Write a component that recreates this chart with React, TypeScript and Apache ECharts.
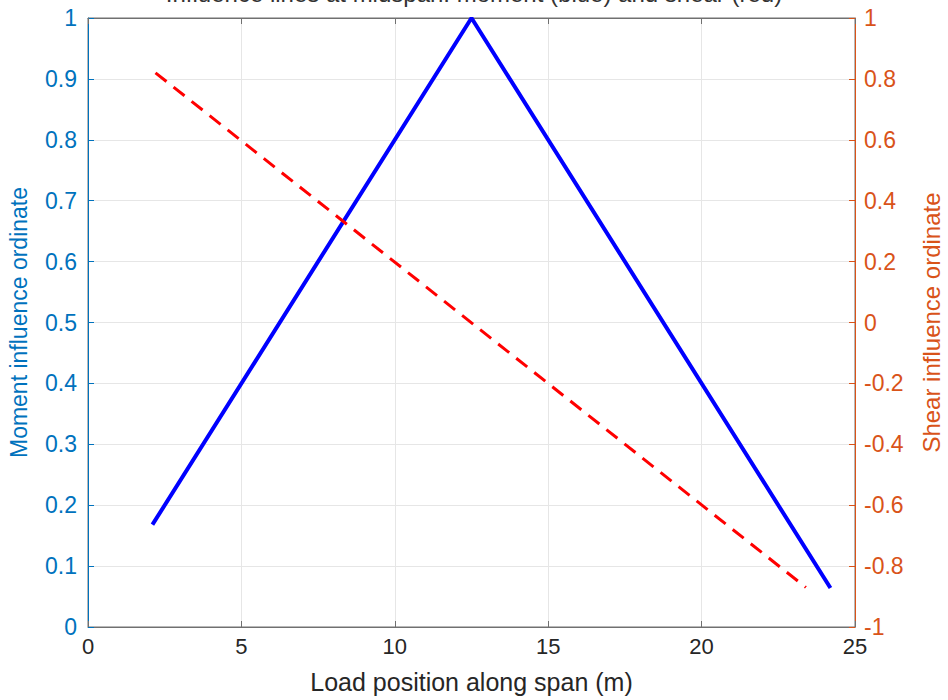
import React, { useEffect, useRef } from "react";
import * as echarts from "echarts";

const titleText = "Influence lines at midspan: moment (blue) and shear (red)";
const xName = "Load position along span (m)";
const leftName = "Moment influence ordinate";
const rightName = "Shear influence ordinate";

const momentX = [2.1, 12.5, 24.2];
const momentY = [0.168, 1, 0.064];
const shearX = [2.2, 23.4];
const shearY = [0.82, -0.87];

const FONT = "Liberation Sans, Arial, Helvetica, sans-serif";
const BLUE_AX = "#0072BD";
const ORANGE_AX = "#D95319";
const GRID = "#e6e6e6";
const FRAME = "#707070";

export default function App() {
  const ref = useRef<HTMLDivElement>(null);
  useEffect(() => {
    if (!ref.current) return;
    const chart = echarts.init(ref.current, null, { renderer: "svg" });
    const moment = momentX.map((x, i) => [x, momentY[i]]);
    const shear = shearX.map((x, i) => [x, shearY[i]]);
    chart.setOption({
      animation: false,
      backgroundColor: "#ffffff",
      textStyle: { fontFamily: FONT },
      title: {
        text: titleText,
        left: "center",
        top: -24,
        textStyle: { fontSize: 24, fontWeight: "normal", color: "#333", fontFamily: FONT },
      },
      grid: {
        left: 88,
        right: 93,
        top: 18,
        bottom: 73,
        containLabel: false,
        outerBoundsMode: "none",
        show: true,
        borderColor: FRAME,
        borderWidth: 1,
        backgroundColor: "transparent",
      },
      xAxis: [
        {
          type: "value",
          min: 0,
          max: 25,
          interval: 5,
          position: "bottom",
          name: xName,
          nameLocation: "middle",
          nameGap: 42,
          nameTextStyle: { fontSize: 25, color: "#262626", fontFamily: FONT },
          axisLine: { show: true, onZero: false, lineStyle: { color: FRAME, width: 1 } },
          axisTick: { show: true, inside: true, length: 6, lineStyle: { color: FRAME } },
          axisLabel: { fontSize: 22, color: "#262626", margin: 8, fontFamily: FONT },
          splitLine: { show: true, lineStyle: { color: GRID, width: 1 } },
        },
        {
          type: "value",
          min: 0,
          max: 25,
          interval: 5,
          position: "top",
          axisLine: { show: true, onZero: false, lineStyle: { color: FRAME, width: 1 } },
          axisTick: { show: true, inside: true, length: 6, lineStyle: { color: FRAME } },
          axisLabel: { show: false },
          splitLine: { show: false },
        },
      ],
      yAxis: [
        {
          type: "value",
          min: 0,
          max: 1,
          interval: 0.1,
          position: "left",
          name: leftName,
          nameLocation: "middle",
          nameRotate: 90,
          nameGap: 58,
          nameTextStyle: { fontSize: 23, color: BLUE_AX, fontFamily: FONT },
          axisLine: { show: true, onZero: false, lineStyle: { color: BLUE_AX, width: 1 } },
          axisTick: { show: true, inside: true, length: 6, lineStyle: { color: BLUE_AX } },
          axisLabel: { fontSize: 23, color: BLUE_AX, margin: 11, fontFamily: FONT },
          splitLine: { show: true, lineStyle: { color: GRID, width: 1 } },
        },
        {
          type: "value",
          min: -1,
          max: 1,
          interval: 0.2,
          position: "right",
          name: rightName,
          nameLocation: "middle",
          nameRotate: 90,
          nameGap: 64,
          nameTextStyle: { fontSize: 24, color: ORANGE_AX, fontFamily: FONT },
          axisLine: { show: true, onZero: false, lineStyle: { color: ORANGE_AX, width: 1 } },
          axisTick: { show: true, inside: true, length: 6, lineStyle: { color: ORANGE_AX } },
          axisLabel: { fontSize: 23, color: ORANGE_AX, margin: 9, fontFamily: FONT },
          splitLine: { show: false },
        },
      ],
      series: [
        {
          type: "line",
          data: moment,
          xAxisIndex: 0,
          yAxisIndex: 0,
          showSymbol: false,
          lineStyle: { color: "#0000ff", width: 4 },
          clip: true,
        },
        {
          type: "line",
          data: shear,
          xAxisIndex: 0,
          yAxisIndex: 1,
          showSymbol: false,
          lineStyle: { color: "#ff0000", width: 3, type: [14, 9] },
          clip: true,
        },
      ],
    });
    return () => chart.dispose();
  }, []);
  return (
    <div
      ref={ref}
      style={{ position: "fixed", left: 0, top: 0, width: 948, height: 700 }}
    />
  );
}
